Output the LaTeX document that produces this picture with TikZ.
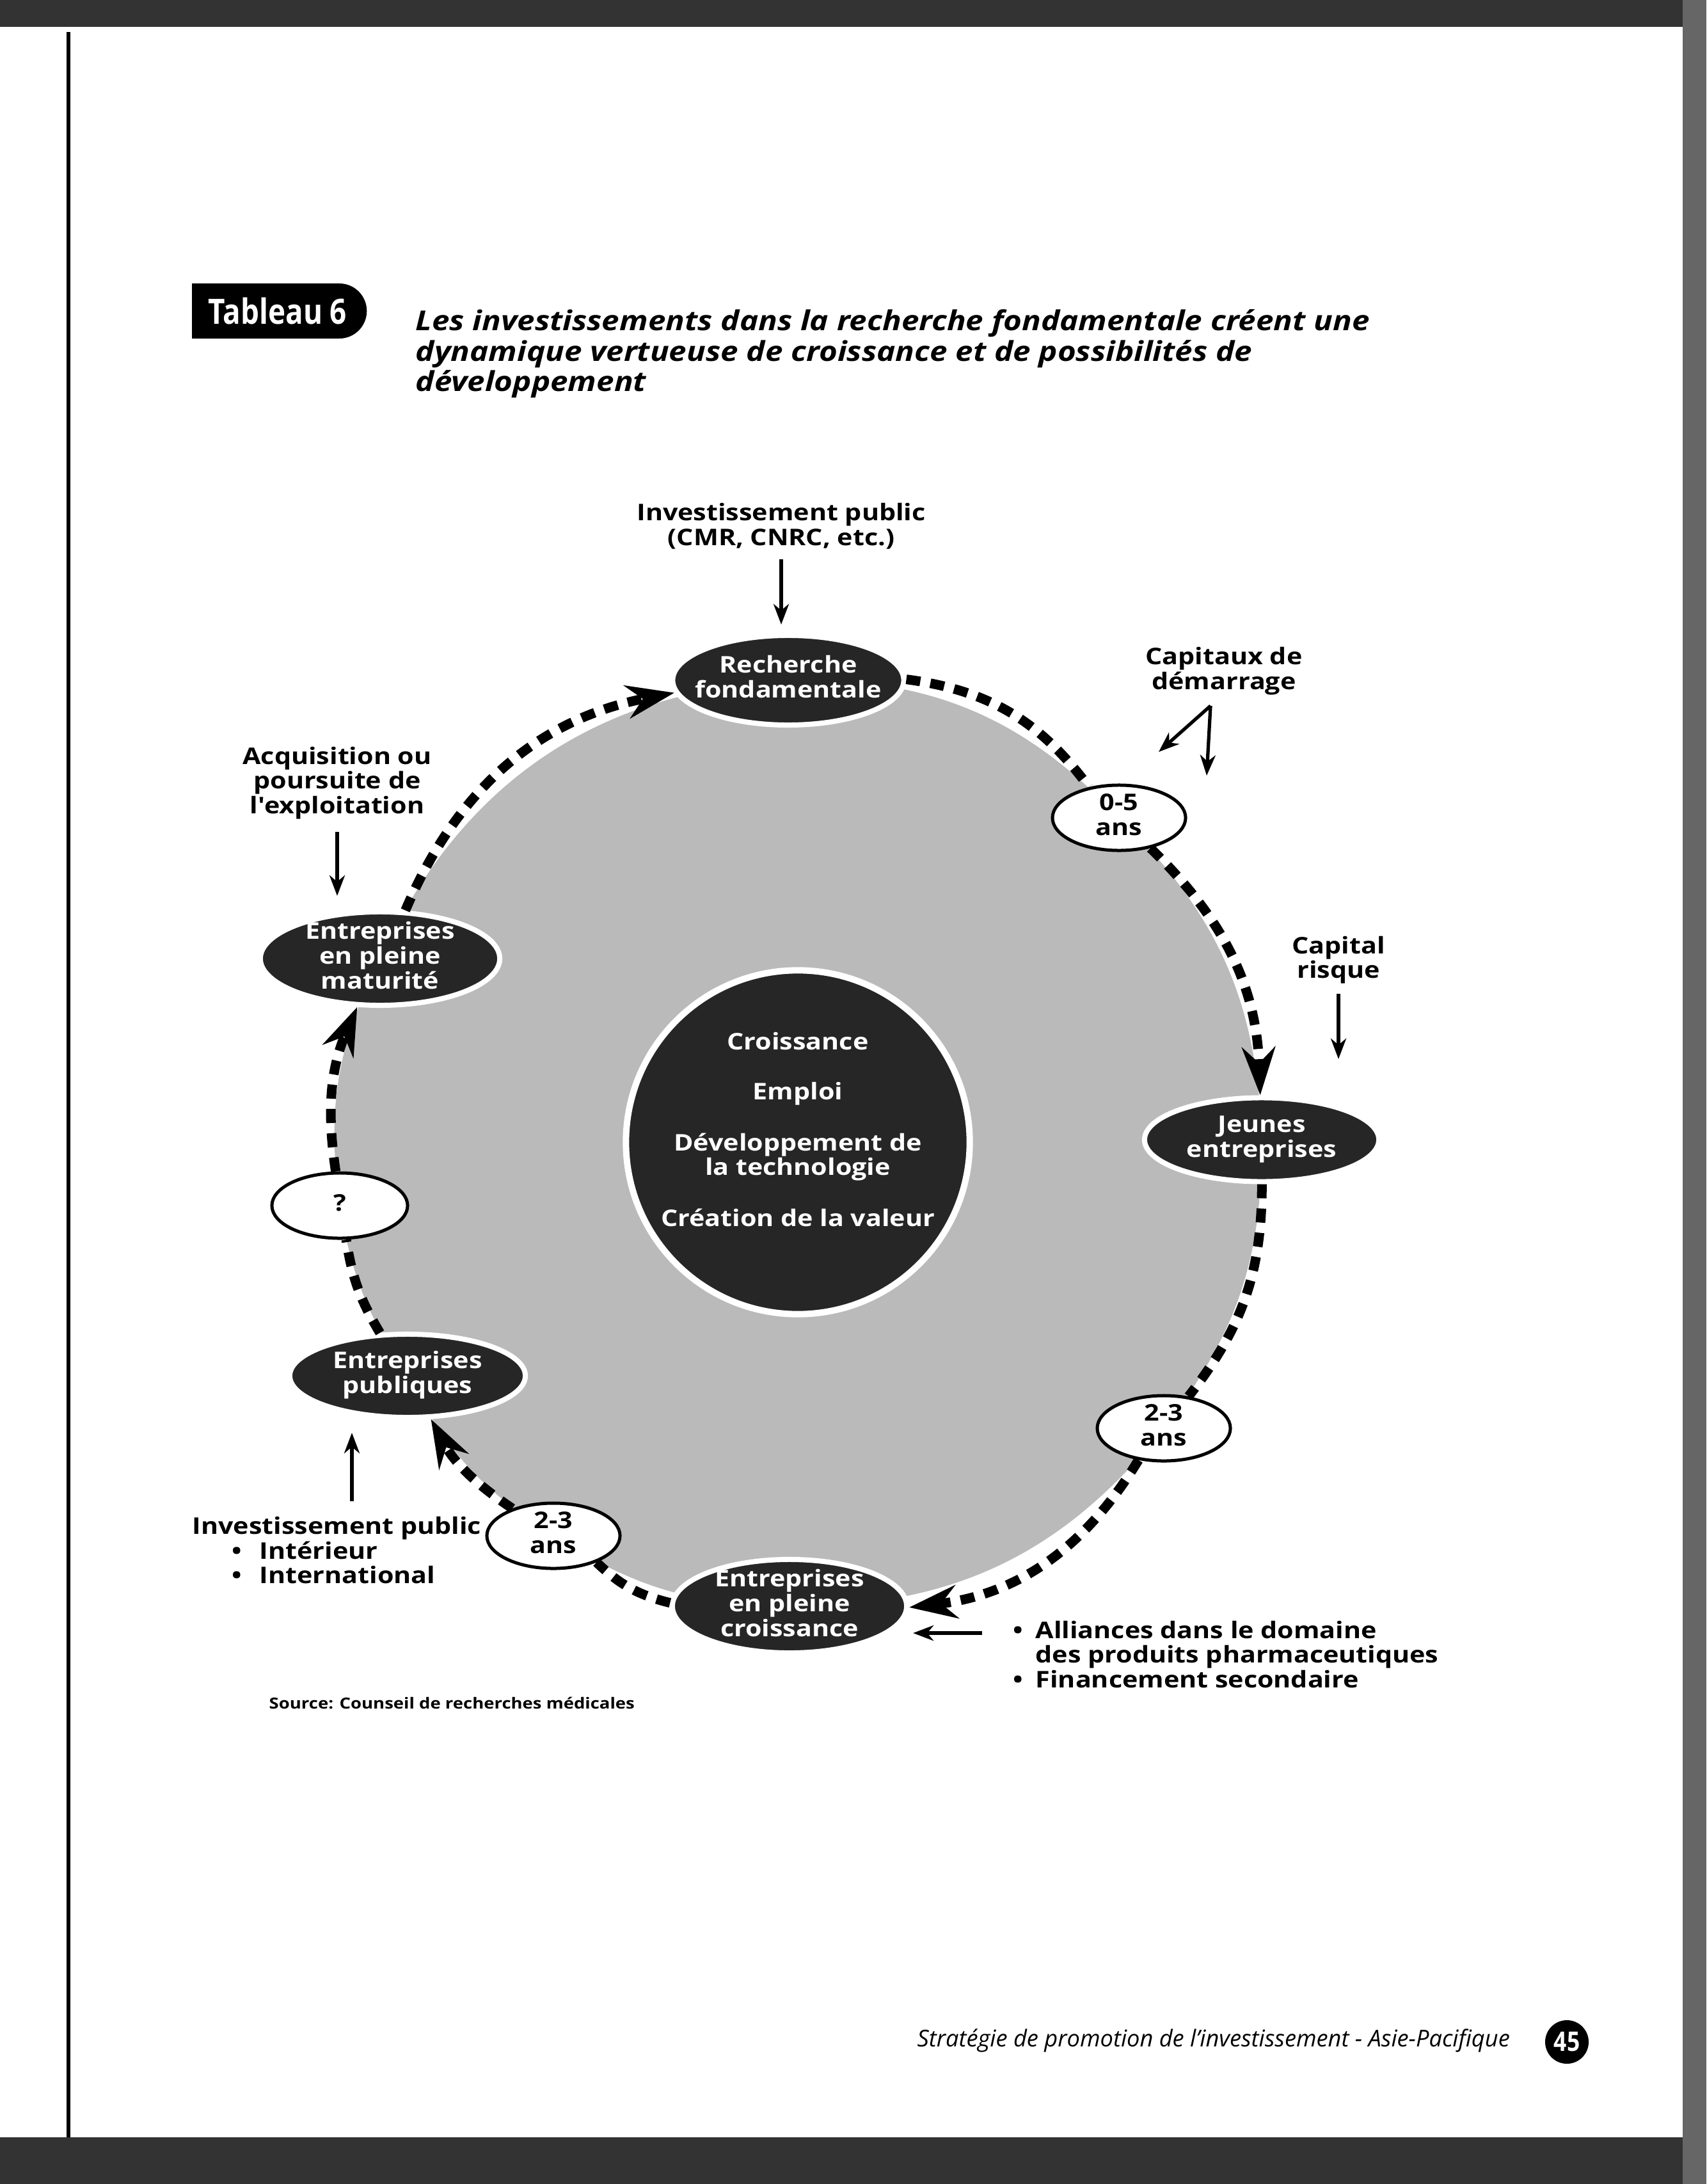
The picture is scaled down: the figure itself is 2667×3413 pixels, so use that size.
\documentclass[tikz,border=0pt]{standalone}
\usepackage{fontspec}
\setmainfont{Open Sans}
\newfontfamily\lbl[FakeStretch=1.15]{Open Sans}
\newfontfamily\cnd[FakeStretch=0.84]{Open Sans}
\usetikzlibrary{shapes.geometric,shapes.misc,arrows.meta}
\newcommand{\stk}[2][c]{\begin{tabular}[t]{@{}#1@{}}#2\end{tabular}}
\newcommand{\inel}[2][-2.6pt]{\smash{\makebox[0pt]{\raisebox{#1}{\begin{tabular}{@{}c@{}}#2\end{tabular}}}}}
\begin{document}
\begin{tikzpicture}[x=0.01cm,y=-0.01cm,
  lblfont/.style={font=\lbl\bfseries\fontsize{10.2}{11}\selectfont},
  lbltxt/.style={lblfont,inner sep=0pt,anchor=base},
  dark/.style={ellipse,fill=black!85,draw=white,line width=0.08cm,text=white,inner sep=0pt,lblfont},
  lite/.style={ellipse,fill=white,draw=black,line width=0.05cm,inner sep=0pt,lblfont,
    minimum width=2.08cm,minimum height=1.02cm},
  ring/.style={line width=0.15cm,dash pattern=on 0.22cm off 0.16cm},
  ringtip/.style={-{Stealth[length=0.75cm,width=0.52cm,inset=0.25cm]}},
  arr/.style={line width=1.5pt,-{Stealth[length=0.32cm,width=0.24cm,inset=0.1cm]}}]
\useasboundingbox (0,0) rectangle (2667,3413);
\fill[white] (0,0) rectangle (2667,3413);
% scan borders
\fill[black!80] (0,0) rectangle (2667,42);
\fill[black!80] (0,3340) rectangle (2667,3413);
\fill[black!60] (2630,0) rectangle (2667,3413);
\fill[black] (104,50) rectangle (110,3340);

% heading
\node[rounded rectangle,rounded rectangle west arc=none,fill=black,text=white,
  minimum width=2.73cm,minimum height=0.86cm,inner sep=0pt,
  font=\cnd\bfseries\fontsize{15.5}{16}\selectfont] (tab) at (434,486) {Tableau 6};
\node[anchor=base west,inner sep=0pt,font=\lbl\bfseries\itshape\fontsize{12.2}{13.5}\selectfont] (title) at (649,517)
  {\stk[l]{Les investissements dans la recherche fondamentale créent une\\dynamique vertueuse de croissance et de possibilités de\\développement}};

% positions of the cycle
\coordinate (Prech) at (1232,1063);
\coordinate (Pz05) at (1749,1278);
\coordinate (Pjeu) at (1972,1781);
\coordinate (Pt23r) at (1819,2232);
\coordinate (Pcro) at (1234,2510);
\coordinate (Pt23l) at (865,2400);
\coordinate (Ppub) at (637,2150);
\coordinate (Pqm) at (531,1884);
\coordinate (Pmat) at (594,1498);

% grey disc bounded by the cycle
\fill[black!27] (Pmat) to[bend left=31] (Prech) to[bend left=24] (Pz05) to[bend left=22] (Pjeu)
  to[bend left=19] (Pt23r) to[bend left=26] (Pcro) to[bend left=16] (Pt23l) to[bend left=15] (Ppub)
  to[bend left=12] (Pqm) to[bend left=17] (Pmat) -- cycle;

% cycle nodes
\node[dark,minimum width=3.61cm,minimum height=1.40cm] (rech) at (Prech) {\inel{Recherche\\fondamentale}};
\node[lite] (z05) at (Pz05) {\inel{0-5\\ans}};
\node[dark,minimum width=3.66cm,minimum height=1.31cm] (jeu) at (Pjeu) {\inel{Jeunes\\entreprises}};
\node[lite] (t23r) at (Pt23r) {\inel{2-3\\ans}};
\node[dark,minimum width=3.66cm,minimum height=1.46cm] (cro) at (Pcro) {\inel{Entreprises\\en pleine\\croissance}};
\node[lite] (t23l) at (Pt23l) {\inel{2-3\\ans}};
\node[dark,minimum width=3.68cm,minimum height=1.30cm] (pub) at (Ppub) {\inel{Entreprises\\publiques}};
\node[lite,minimum width=2.12cm] (qm) at (Pqm) {\inel{?}};
\node[dark,minimum width=3.74cm,minimum height=1.46cm] (mat) at (Pmat) {\inel{Entreprises\\en pleine\\maturité}};
\node[circle,fill=black!85,draw=white,line width=0.1cm,minimum size=5.37cm,inner sep=0pt,text=white,lblfont] (ctr) at (1247,1785)
  {\inel[1.7pt]{Croissance\\[0.4cm]Emploi\\[0.4cm]Développement de\\la technologie\\[0.4cm]Création de la valeur}};

% cycle connectors
\draw[ring,ringtip] (mat) to[bend left=28] (rech);
\draw[ring] (rech) to[bend left=23] (z05);
\draw[ring,ringtip] (z05) to[bend left=22] (jeu);
\draw[ring] (jeu) to[bend left=19] (t23r);
\draw[ring,ringtip] (t23r) to[bend left=26] (cro);
\draw[ring] (cro) to[bend left=15] (t23l);
\draw[ring,ringtip] (t23l) to[bend left=14] (pub);
\draw[ring] (pub) to[bend left=11] (qm);
\draw[ring,ringtip] (qm) to[bend left=16] (mat);

% outer labels
\node[lbltxt] (invtop) at (1221,814) {\stk{Investissement public\\(CMR, CNRC, etc.)}};
\node[lbltxt] (capd) at (1913,1038) {\stk{Capitaux de\\démarrage}};
\node[lbltxt] (caprisk) at (2092,1490) {\stk{Capital\\risque}};
\node[lbltxt] (acq) at (527,1194) {\stk{Acquisition ou\\poursuite de\\l\textquotesingle exploitation}};
\node[lbltxt,anchor=base west] (invbot) at (300,2397)
  {\stk[l]{Investissement public\\\hspace*{0.62cm}\makebox[0.43cm][l]{•}Intérieur\\\hspace*{0.62cm}\makebox[0.43cm][l]{•}International}};
\node[lbltxt,anchor=base west] (allc) at (1583,2560)
  {\stk[l]{\makebox[0.35cm][l]{•}Alliances dans le domaine\\\hspace*{0.35cm}des produits pharmaceutiques\\\makebox[0.35cm][l]{•}Financement secondaire}};
\node[anchor=base west,inner sep=0pt,font=\lbl\bfseries\fontsize{6.8}{8}\selectfont] (src) at (420,2670) {Source: Counseil de recherches médicales};

% label arrows
\coordinate (capdapex) at (1892,1103);
\coordinate (capdL) at (1811,1175);
\coordinate (capdD) at (1886,1212);
\coordinate (crtip) at (2092,1655);
\coordinate (ipb) at (550,2346);
\coordinate (alc) at (1535,2552);
\draw[arr,shorten <=0.09cm,shorten >=0.13cm] (invtop.south) -- (invtop.south |- rech.north);
\draw[arr] (capdapex) -- (capdL);
\draw[arr] (capdapex) -- (capdD);
\draw[arr,shorten <=0.12cm] (caprisk.south) -- (crtip);
\draw[arr,shorten <=0.16cm,shorten >=0.21cm] (acq.south) -- (acq.south |- mat.north);
\draw[arr,shorten >=0.2cm] (ipb) -- (ipb |- pub.south);
\draw[arr,shorten >=0.06cm] (alc) -- (alc -| cro.east);

% footer
\node[anchor=base west,inner sep=0pt,font=\itshape\fontsize{10.3}{12}\selectfont] (foot) at (1433,3198)
  {Stratégie de promotion de l’investissement - Asie-Pacifique};
\node[circle,fill=black,text=white,minimum size=0.68cm,inner sep=0pt,font=\cnd\bfseries\fontsize{12}{12}\selectfont] (pg) at (2449,3191) {45};
\end{tikzpicture}
\end{document}
